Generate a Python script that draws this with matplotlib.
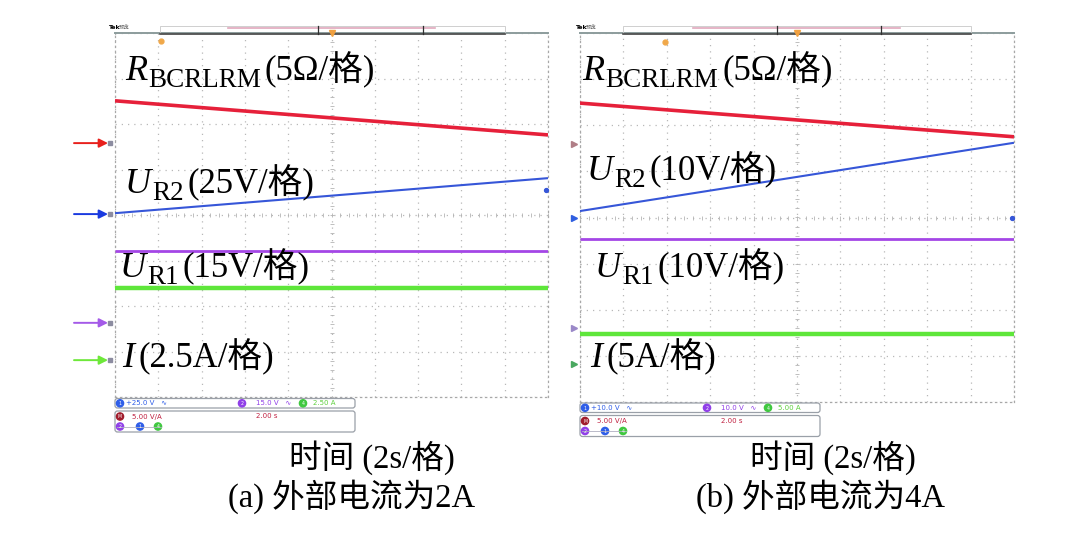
import matplotlib
matplotlib.use('Agg')
import matplotlib.pyplot as plt
import matplotlib.transforms as mtrans
from matplotlib.patches import FancyBboxPatch, Rectangle, Circle
import numpy as np

FAM = ['Liberation Serif', 'Noto Sans CJK SC', 'DejaVu Sans']
plt.rcParams['font.family'] = FAM

# ---------------- data (screen divisions, centre line = 0) ----------------
t_s = [0, 20]                      # 10 divisions x 2 s/div
# panel (a): external current 2 A
a_R   = [2.51, 1.76]
a_UR2 = [0.04, 0.81]
a_UR1 = [-0.79, -0.79]
a_I   = [-1.60, -1.60]
a_ref = [1.58, 0.02, -2.37, -3.19]   # channel reference markers R, UR2, UR1, I
a_dot = 0.55
# panel (b): external current 4 A
b_R   = [2.48, 1.75]
b_UR2 = [0.14, 1.62]
b_UR1 = [-0.47, -0.47]
b_I   = [-2.53, -2.53]
b_ref = [1.59, 0.0, -2.40, -3.18]
b_dot = 0.0

a_labels = [('R', 'BCRLRM', '(5Ω/格)'), ('U', 'R2', '(25V/格)'),
            ('U', 'R1', '(15V/格)'), ('I', '', '(2.5A/格)')]
b_labels = [('R', 'BCRLRM', '(5Ω/格)'), ('U', 'R2', '(10V/格)'),
            ('U', 'R1', '(10V/格)'), ('I', '', '(5A/格)')]
a_status = ['+25.0 V', '15.0 V', '2.50 A', '5.00 V/A', '2.00 s']
b_status = ['+10.0 V', '10.0 V', '5.00 A', '5.00 V/A', '2.00 s']
xlabel = '时间 (2s/格)'
a_caption = '(a) 外部电流为2A'
b_caption = '(b) 外部电流为4A'

C_R, C_B, C_P, C_G = '#e6203a', '#3656d8', '#a446e6', '#5ee63a'
trace_colors = [C_R, C_B, C_P, C_G]
trace_lw = [2.6, 1.5, 2.0, 3.2]

W, H = 1080, 536
fig = plt.figure(figsize=(W / 100, H / 100), dpi=100)
fig.patch.set_facecolor('white')


def make_panel(px0, py0, px1, py1):
    ax = fig.add_axes([px0 / W, 1 - py1 / H, (px1 - px0) / W, (py1 - py0) / H])
    ax.set_xlim(0, 20)
    ax.set_ylim(-4, 4)
    ax.set_xticks(np.arange(0, 21, 2))
    ax.set_yticks(np.arange(-4, 5, 1))
    ax.tick_params(length=0, labelbottom=False, labelleft=False)
    ax.grid(True, color='#b8b8b8', linestyle=(0, (1, 4)), linewidth=0.9)
    # minor ticks on centre lines
    mx = np.arange(0, 20.01, 0.4)
    ax.plot(mx, np.zeros_like(mx), ls='none', marker='|', ms=2.5, color='#b4b4b4', mew=0.6)
    my = np.arange(-4, 4.01, 0.2)
    ax.plot(np.full_like(my, 10), my, ls='none', marker='_', ms=2.5, color='#b4b4b4', mew=0.6)
    for s in ['left', 'right', 'bottom']:
        ax.spines[s].set_color('#a8a8a8')
        ax.spines[s].set_linestyle((0, (1, 3)))
        ax.spines[s].set_linewidth(0.9)
    ax.spines['top'].set_color('#8c9c9c')
    ax.spines['top'].set_linewidth(1.4)
    return ax


axA = make_panel(115, 33, 548, 397)
axB = make_panel(580, 33, 1014, 402)

for ax, series, dot in [(axA, [a_R, a_UR2, a_UR1, a_I], a_dot),
                        (axB, [b_R, b_UR2, b_UR1, b_I], b_dot)]:
    for y, c, lw in zip(series, trace_colors, trace_lw):
        ax.plot(t_s, y, color=c, lw=lw, solid_capstyle='butt', zorder=3)
    ax.plot([19.9], [dot], marker='o', ms=2.8, color=C_B, clip_on=False, zorder=4)

# reference markers and arrows (panel a)
tr_a = mtrans.offset_copy(axA.get_yaxis_transform(), fig=fig, x=-5, y=0, units='dots')
arrow_cols = ['#e8201c', '#1a3ae0', '#a45ae8', '#6ee83a']
for lvl, c in zip(a_ref, arrow_cols):
    axA.plot([0], [lvl], transform=tr_a, marker='s', ms=3.5, color='#8c8ca0', clip_on=False)
    axA.annotate('', xy=(0, lvl), xycoords=mtrans.offset_copy(axA.get_yaxis_transform(), fig=fig,
                                                               x=-7, y=0, units='dots'),
                 xytext=(-34, 0), textcoords='offset pixels',
                 arrowprops=dict(arrowstyle='-|>', color=c, lw=1.4, mutation_scale=13,
                                 shrinkA=0, shrinkB=0), annotation_clip=False)
# reference markers (panel b)
tr_b = mtrans.offset_copy(axB.get_yaxis_transform(), fig=fig, x=-6, y=0, units='dots')
ref_cols_b = ['#b07e86', '#2f5ee0', '#9a88c8', '#4aa860']
for lvl, c in zip(b_ref, ref_cols_b):
    axB.plot([0], [lvl], transform=tr_b, marker='>', ms=5, color=c, clip_on=False)

# ---------------- overlay in pixel coordinates ----------------
ov = fig.add_axes([0, 0, 1, 1], zorder=10)
ov.set_xlim(0, W)
ov.set_ylim(H, 0)
ov.axis('off')
ov.patch.set_alpha(0)
renderer = fig.canvas.get_renderer()


def rich(x, y, pieces):
    for s, size, style, dy, pad in pieces:
        t = ov.text(x, y + dy, s, fontsize=size, fontstyle=style, va='baseline', ha='left',
                    color='black')
        bb = t.get_window_extent(renderer=renderer)
        x += bb.width + pad


def label(x, y, lab):
    main, sub, rest = lab
    pieces = [(main, 26, 'italic', 0, 1)]
    if sub:
        pieces.append((sub, 19.5, 'normal', 7, 4))
    else:
        pieces[0] = (main, 26, 'italic', 0, 4)
    pieces.append((rest, 25, 'normal', 0, 0))
    rich(x, y, pieces)


for (x, y), lab in zip([(125, 80), (125, 193), (120, 277), (122, 367)], a_labels):
    label(x, y, lab)
for (x, y), lab in zip([(582, 80), (587, 180), (595, 277), (590, 367)], b_labels):
    label(x, y, lab)

# header bars
for (tx, bx0, bx1, pk0, pk1, tk, cx, tmx, tmy) in [
        (108, 160, 505, 228, 435, (318, 423), 332, 161, 41),
        (575, 623, 971, 693, 900, (777, 881), 797, 665, 42)]:
    ov.text(tx, 29, 'Tek', fontsize=4.5, fontweight='bold', va='baseline', ha='left',
            family=['DejaVu Sans'])
    ov.text(tx + 11, 29, '预览', fontsize=4, color='#707070', va='baseline', ha='left',
            family=['Noto Sans CJK SC'])
    ov.add_patch(Rectangle((bx0, 25.5), bx1 - bx0, 8, fill=False, ec='#c8c8c8', lw=0.6))
    ov.plot([bx0, bx1], [33.5, 33.5], color='#4a4a4a', lw=1.2)
    ov.plot([pk0, pk1], [27.5, 27.5], color='#e0a8bc', lw=1.2)
    for k in tk:
        ov.plot([k, k], [25.5, 33.5], color='#303030', lw=0.9)
    ov.plot([cx], [33], marker='v', ms=4.5, color='#f0a040')
    ov.plot([tmx], [tmy], marker='o', ms=3.5, color='#f0a84a')


def status(x0, y0, vals):
    ov.add_patch(FancyBboxPatch((x0, y0), 240, 9.5, boxstyle='round,pad=0,rounding_size=2.5',
                                ec='#9aa0a8', fc='white', lw=0.9))
    ov.add_patch(FancyBboxPatch((x0, y0 + 12.5), 240, 21, boxstyle='round,pad=0,rounding_size=2.5',
                                ec='#9aa0a8', fc='white', lw=0.9))

    def chip(x, y, c, s):
        ov.add_patch(Circle((x, y), 3.6, color=c))
        ov.text(x, y + 0.3, s, fontsize=3.3, color='white', ha='center', va='center',
                family=['DejaVu Sans'])

    yc = y0 + 4.8
    chip(x0 + 5, yc, '#2f5ee8', '1')
    ov.text(x0 + 11, yc, vals[0] + '   ∿', fontsize=5, color='#2f5ee8', va='center',
            family=['DejaVu Sans'])
    chip(x0 + 127, yc, '#9040e8', '2')
    ov.text(x0 + 141, yc, vals[1] + '   ∿', fontsize=5, color='#9040e8', va='center',
            family=['DejaVu Sans'])
    chip(x0 + 188, yc, '#40c840', '4')
    ov.text(x0 + 198, yc, vals[2], fontsize=5, color='#60d040', va='center',
            family=['DejaVu Sans'])
    y2 = y0 + 18
    chip(x0 + 5, y2, '#a01c2c', 'M')
    ov.text(x0 + 17, y2, vals[3], fontsize=5, color='#c02040', va='center',
            family=['DejaVu Sans'])
    ov.text(x0 + 141, y2, vals[4], fontsize=5, color='#c02040', va='center',
            family=['DejaVu Sans'])
    y3 = y0 + 28
    ov.plot([x0 + 2, x0 + 46], [y3, y3], color='#b0b0c0', lw=0.6)
    chip(x0 + 5, y3, '#9040e8', '2')
    chip(x0 + 25, y3, '#2f5ee8', '1')
    chip(x0 + 43, y3, '#40c840', '4')


status(115, 398.5, a_status)
status(580, 403, b_status)

# captions
for cx in [372, 833]:
    ov.text(cx, 458, xlabel, fontsize=23.5, ha='center', va='center')
for cx, cap in [(352, a_caption), (820, b_caption)]:
    ov.text(cx, 497, cap, fontsize=23.5, ha='center', va='center')

fig.savefig('out.png', dpi=100, facecolor='white')
